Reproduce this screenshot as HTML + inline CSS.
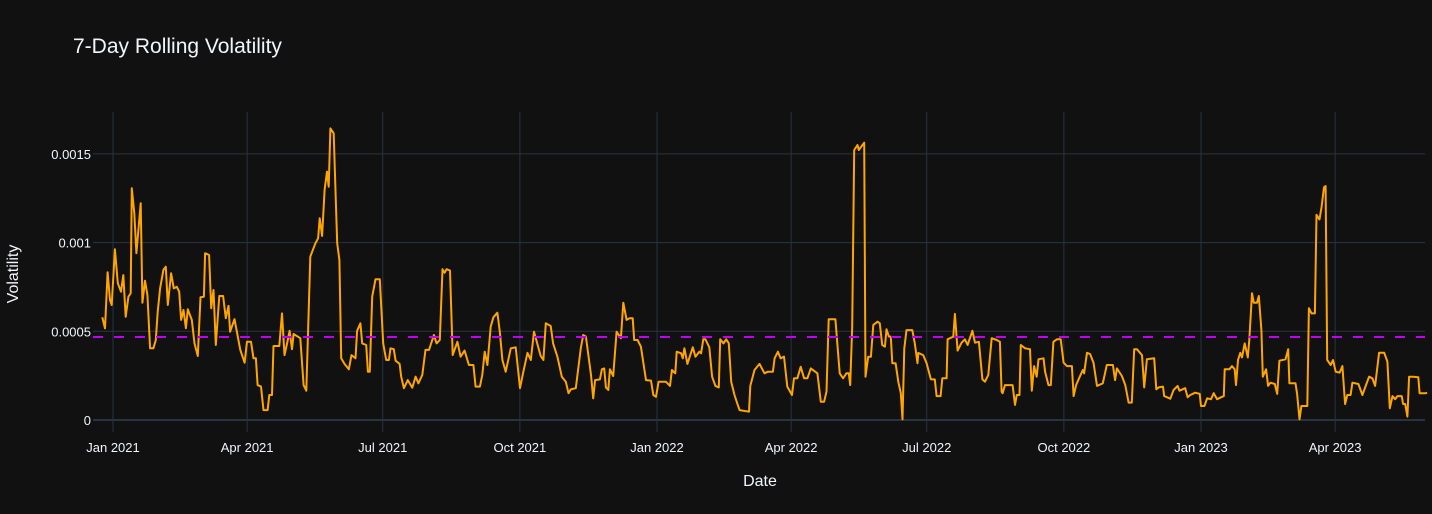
<!DOCTYPE html>
<html>
<head>
<meta charset="utf-8">
<style>
  html,body{margin:0;padding:0;background:#111111;}
  #wrap{position:relative;width:1432px;height:514px;overflow:hidden;background:#111111;}
  svg text{font-family:"Liberation Sans",sans-serif;}
</style>
</head>
<body>
<div id="wrap">
<svg id="chart" width="1432" height="514" xmlns="http://www.w3.org/2000/svg">
  <rect x="0" y="0" width="1432" height="514" fill="#111111"/>
  <g id="grid"></g>
  <g id="series"></g>
  <g id="axes"></g>
  <text x="73" y="53" fill="#f2f5fa" font-size="21">7-Day Rolling Volatility</text>
  <text x="760" y="486" fill="#f2f5fa" font-size="16" text-anchor="middle">Date</text>
  <text x="18" y="274" fill="#f2f5fa" font-size="16" text-anchor="middle" transform="rotate(-90 18 274)">Volatility</text>
</svg>
</div>
<script>
// ---- data (days since 2021-01-01, volatility in units of 1e-4) ----
const days = [-7.2,-5.4,-3.6,-2.0,-0.9,1.3,3.2,5.4,6.9,8.5,10.3,11.9,12.6,14.3,15.7,18.6,19.7,21.5,23.1,24.9,27.1,28.7,30.0,31.6,33.8,35.4,36.8,39.0,40.8,42.8,44.4,45.7,47.3,48.9,50.2,52.9,54.7,56.9,58.7,61.0,61.8,64.5,65.9,67.4,69.0,71.3,73.9,75.7,77.5,78.6,81.5,85.4,88.3,89.9,92.6,94.3,95.9,97.0,99.3,101.0,103.7,104.9,106.7,107.7,111.6,113.4,115.1,116.8,118.5,120.1,121.2,125.7,127.9,129.7,132.4,135.8,137.6,138.7,140.3,142.0,
143.6,144.7,145.9,148.1,149.0,150.4,151.9,153.1,155.3,158.2,160.0,162.7,163.8,166.0,167.2,169.9,171.0,172.3,173.9,176.1,179.0,181.3,183.3,185.1,186.2,188.4,189.6,192.3,193.4,195.2,197.8,200.8,203.0,204.9,207.5,209.7,212.0,215.3,217.1,219.3,221.1,222.5,223.8,226.1,227.9,231.1,233.2,235.9,238.8,241.8,243.3,246.2,247.8,249.4,251.2,253.4,255.2,257.9,259.5,261.3,263.5,266.9,270.2,273.1,275.1,278.1,280.3,282.5,287.0,288.8,290.4,293.7,
295.3,298.2,301.1,303.8,305.6,307.2,310.5,313.9,315.5,317.3,320.7,322.2,323.5,326.7,328.0,329.6,330.7,332.3,333.4,335.6,337.9,340.8,342.4,344.6,346.4,348.7,349.7,352.0,354.2,357.6,361.0,362.5,364.3,366.1,371.0,373.7,375.0,377.3,378.2,381.2,382.3,383.4,385.4,389.0,390.8,393.4,394.6,396.1,397.5,400.1,402.0,404.2,406.5,407.4,409.6,411.4,413.2,414.8,417.0,418.8,420.4,426.7,427.6,430.4,433.8,437.1,439.4,442.8,443.9,
446.1,447.9,450.2,452.4,455.6,456.9,459.2,461.4,463.7,465.9,468.2,472.6,474.9,477.1,478.7,480.2,484.7,487.6,489.9,492.1,493.7,494.6,496.0,497.3,499.5,500.4,504.0,504.9,506.7,508.5,510.1,513.0,514.5,516.1,517.9,519.0,520.6,521.9,522.9,525.1,526.9,528.6,529.7,530.9,532.4,536.3,538.0,539.8,540.3,543.6,545.9,548.8,551.4,552.6,555.3,556.4,559.3,560.0,563.8,564.9,566.7,569.4,571.6,573.4,576.6,578.4,581.0,583.3,585.1,587.3,589.6,592.9,595.1,596.2,
596.9,598.5,603.6,605.2,606.4,608.2,609.1,612.0,615.3,616.5,618.0,619.8,621.0,624.3,625.4,627.7,629.2,631.0,633.3,635.9,637.8,640.0,643.4,644.5,646.2,648.9,650.7,651.6,653.5,655.6,657.9,660.2,664.1,666.8,670.9,672.4,673.6,676.9,679.2,681.4,683.6,685.2,687.0,690.4,691.9,693.7,698.6,700.0,701.6,704.5,705.3,709.4,711.6,714.3,715.6,719.4,721.0,722.8,726.1,729.1,730.0,732.3,734.1,736.7,738.5,740.8,743.4,745.3,
745.9,749.0,750.8,752.6,753.5,754.8,756.4,757.5,759.3,761.4,762.4,764.2,765.4,767.6,768.8,770.5,771.5,773.7,775.0,776.6,779.5,781.1,782.6,786.7,788.5,789.3,793.4,794.5,796.1,797.4,801.3,802.4,804.2,806.4,807.5,809.5,810.9,812.5,813.6,814.7,817.0,818.6,820.4,823.0,824.9,826.7,828.2,830.4,831.6,835.6,838.3,840.5,842.8,845.0,846.8,849.5,852.9,855.1,856.7,858.5,860.3,861.8,864.7,865.6,867.0,868.5,869.6,872.3,875.8,876.7,880.7,881.7];
const vols = [5.79,5.17,8.33,6.76,6.48,9.62,7.71,7.23,8.17,5.82,6.95,7.14,13.06,11.65,9.40,12.22,6.61,7.85,7.05,4.04,4.04,4.51,6.10,7.42,8.46,8.64,6.48,8.27,7.42,7.51,7.23,5.64,6.20,5.17,6.24,5.64,4.32,3.61,6.92,6.95,9.40,9.30,6.30,7.33,4.23,6.99,6.99,5.73,6.43,4.98,5.68,3.95,3.23,4.41,4.41,3.48,3.48,1.97,1.88,0.56,0.56,1.41,1.41,4.17,4.17,6.01,3.66,4.32,5.03,3.99,4.85,4.61,1.97,1.65,9.21,9.96,10.24,11.37,10.37,12.97,
14.00,13.15,16.44,16.16,13.62,9.96,9.02,3.48,3.16,2.86,3.66,3.48,5.03,5.45,4.32,4.23,2.72,2.72,6.95,7.93,7.93,4.32,3.38,3.38,4.04,3.99,3.34,3.16,2.44,1.79,2.25,1.82,2.44,2.07,2.54,3.95,3.95,4.79,4.32,4.51,8.50,8.30,8.50,8.42,3.66,4.41,3.57,3.91,3.10,3.10,1.88,1.88,2.54,3.85,3.10,5.26,5.79,6.05,4.98,3.38,2.72,4.04,4.10,1.79,2.63,3.79,3.38,4.98,3.61,3.38,5.45,5.30,
4.32,3.57,2.44,2.16,1.51,1.73,1.79,4.04,4.79,4.70,2.54,1.22,2.25,2.29,2.86,2.91,1.84,1.69,2.86,2.48,4.98,4.61,6.61,5.64,5.73,5.73,4.51,4.51,4.13,2.25,2.22,1.41,1.31,2.16,2.16,1.92,2.82,2.63,3.85,3.76,3.48,4.04,3.16,4.10,3.57,3.85,3.76,4.55,4.55,4.10,2.44,1.92,1.84,4.55,4.32,4.55,4.32,2.16,1.41,0.94,0.56,0.47,1.92,2.82,3.16,2.63,2.72,2.72,3.48,
3.85,3.48,3.57,1.88,1.41,2.35,2.35,3.00,2.35,2.35,2.91,2.63,1.03,1.03,1.60,5.68,5.68,2.63,2.35,2.63,2.63,1.97,5.26,15.22,15.50,15.22,15.63,2.44,3.57,3.57,5.36,5.54,5.45,4.23,4.13,5.11,4.70,4.70,3.20,3.20,2.16,1.51,0.04,4.04,5.07,5.07,4.32,3.20,3.78,3.66,3.20,2.29,2.29,1.35,1.35,2.35,2.35,4.55,4.70,5.98,3.91,4.36,4.55,4.23,5.03,4.36,4.41,2.29,2.16,2.54,4.61,4.51,4.41,1.60,
1.51,1.97,1.97,0.85,1.41,1.41,4.23,4.04,3.99,1.65,3.04,2.44,3.42,3.48,2.72,1.97,1.97,4.41,4.55,4.55,3.23,3.04,3.04,1.35,1.97,2.48,2.82,2.63,3.79,3.72,3.23,1.92,2.07,3.10,3.10,2.25,2.91,2.48,1.97,0.98,0.98,3.99,3.99,3.66,1.84,3.42,3.48,1.73,1.84,1.88,1.35,1.20,1.69,1.92,1.65,1.79,1.28,1.41,1.54,1.47,0.79,0.79,1.22,1.17,1.51,1.17,1.28,1.35,
2.86,2.86,3.04,2.86,1.97,3.38,3.79,3.53,4.32,3.53,4.51,7.14,6.61,6.61,6.99,5.07,2.44,2.86,1.92,2.10,2.03,1.47,3.34,3.42,3.99,2.07,2.07,1.47,0.04,0.79,0.79,6.30,6.01,6.01,11.56,11.31,12.02,13.12,13.19,3.38,3.10,3.38,2.72,2.67,3.04,0.90,1.41,1.41,2.10,2.03,1.41,1.92,2.44,2.35,1.92,3.79,3.79,3.29,0.66,1.35,1.17,1.35,1.35,0.90,0.90,0.19,2.44,2.44,2.41,1.51,1.51,1.54];
const meanVol = 4.68;
const xTickDays = [0,90,181,273,365,455,546,638,730,820];
const xTickLabels = ["Jan 2021","Apr 2021","Jul 2021","Oct 2021","Jan 2022","Apr 2022","Jul 2022","Oct 2022","Jan 2023","Apr 2023"];
const yTickVals = [0,5,10,15];
const yTickLabels = ["0","0.0005","0.001","0.0015"];

// ---- axis functions ----
const PL = 93, PR = 1425, PT = 112, PB = 432;
function xScale(d){ return 113 + d * 1.4904; }
function yScale(v){ return 420 - v * 17.74; }

const NS = "http://www.w3.org/2000/svg";
function mk(tag, attrs){ const e = document.createElementNS(NS, tag); for (const k in attrs) e.setAttribute(k, attrs[k]); return e; }
const grid = document.getElementById('grid');
const axes = document.getElementById('axes');
const series = document.getElementById('series');

xTickDays.forEach((d, i) => {
  const x = xScale(d);
  const g = mk('line', {x1:x, x2:x, y1:PT, y2:PB, stroke:'#283442', 'stroke-width':1});
  
  
  grid.appendChild(g);
  const t = mk('text', {x:x, y:452, fill:'#f2f5fa', 'font-size':13, 'text-anchor':'middle'});
  t.textContent = xTickLabels[i];
  
  
  axes.appendChild(t);
});
yTickVals.forEach((v, i) => {
  const y = yScale(v);
  const g = mk('line', {x1:PL, x2:PR, y1:y, y2:y, stroke:'#283442', 'stroke-width': v === 0 ? 2 : 1});
  
  
  grid.appendChild(g);
  const t = mk('text', {x:91, y:y + 5, fill:'#f2f5fa', 'font-size':13, 'text-anchor':'end'});
  t.textContent = yTickLabels[i];
  
  
  axes.appendChild(t);
});

let d = '';
days.forEach((dd, i) => { d += (i ? 'L' : 'M') + xScale(dd).toFixed(1) + ',' + yScale(vols[i]).toFixed(1); });
const line = mk('path', {d:d, fill:'none', stroke:'#FFA500', 'stroke-width':2, 'stroke-linejoin':'round'});


series.appendChild(line);

const my = yScale(meanVol);
const mean = mk('line', {x1:PL, x2:PR, y1:my, y2:my, stroke:'#C000F0', 'stroke-width':2, 'stroke-dasharray':'10,11'});


series.appendChild(mean);
</script>
</body>
</html>
